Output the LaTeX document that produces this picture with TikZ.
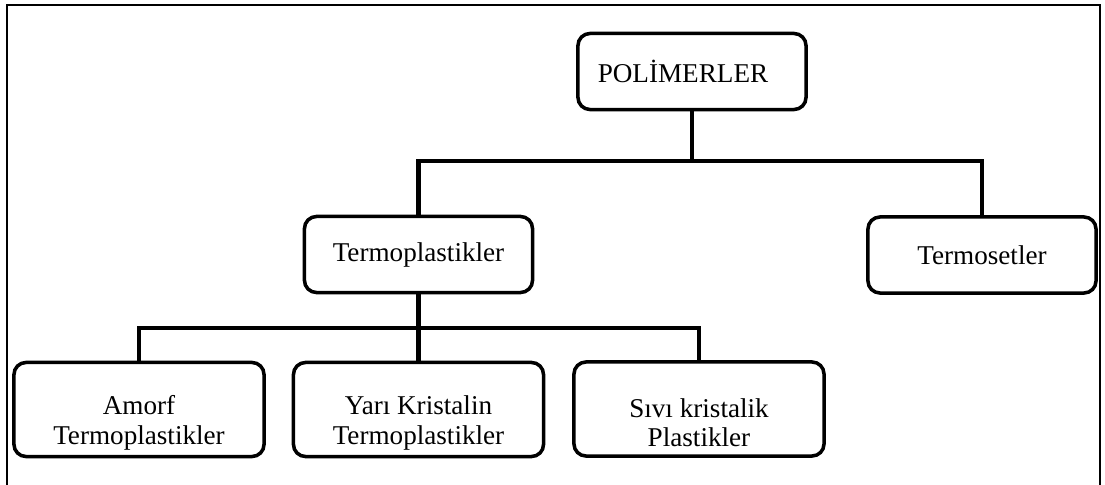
\documentclass[tikz,border=0pt]{standalone}
\usepackage{fontspec}
\setmainfont{Liberation Serif}
\usepackage{tikz}
\usetikzlibrary{positioning,calc}
\newcommand\dropstrut{\rule{0pt}{1.15cm}}

\begin{document}
\begin{tikzpicture}[x=0.025cm,y=-0.025cm,
    class node/.style={draw,rounded corners=0.3cm,line width=2.5pt,
      minimum width=5.7cm,minimum height=1.9cm,align=center,
      font=\fontsize{19.3}{20.8}\selectfont},
    leaf node/.style={class node,minimum width=6.25cm,minimum height=2.35cm},
    link/.style={line width=3.5pt}]

    \clip (0,0) rectangle (1105,485);
    \draw[line width=2.1pt] (7,5) rectangle (1100,520);

    \node[class node] (pol) at (692,71.5) {\hspace*{-0.45cm}POLİMERLER};
    \node[class node] (tp) at (418.5,254.5) {Termoplastikler};
    \node[class node] (ts) at (982,255) {Termosetler};
    \node[leaf node] (am) at (139,409.5) {\dropstrut Amorf\\Termoplastikler};
    \node[leaf node] (yk) at (418.5,409.5) {\dropstrut Yarı Kristalin\\Termoplastikler};
    \node[leaf node] (sk) at (699,409) {\dropstrut Sıvı kristalik\\Plastikler};

    \coordinate (j1) at (692,161);
    \coordinate (j2) at (418.5,328);

    \draw[link] (pol) -- (j1);
    \draw[link] (tp) |- (j1) -| (ts);
    \draw[link] (tp) -- (yk);
    \draw[link] (am) |- (j2) -| (sk);
  \end{tikzpicture}
\end{document}
